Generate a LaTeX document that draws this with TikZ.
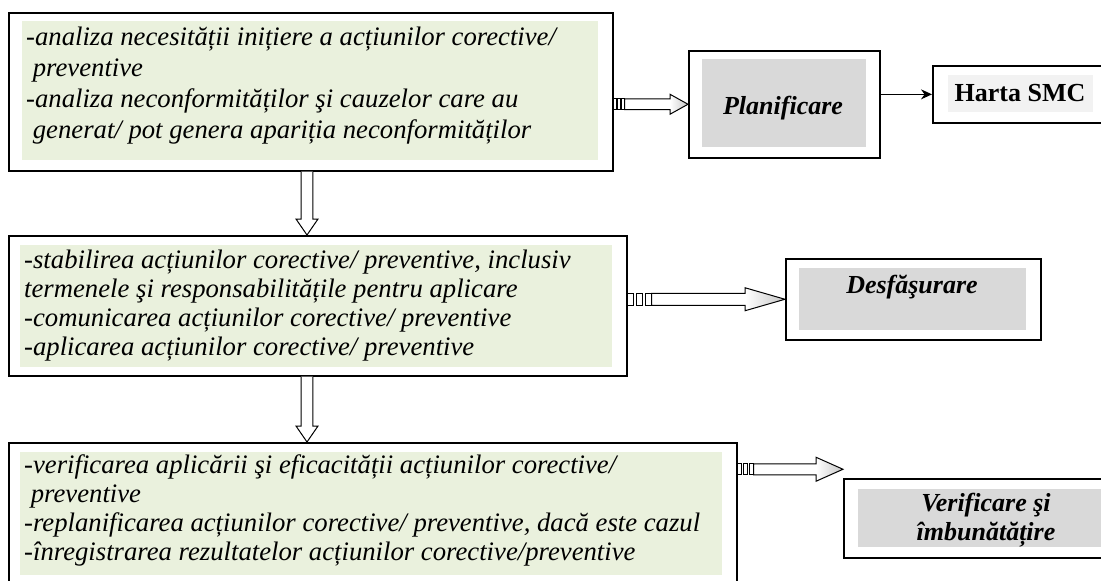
\documentclass[tikz,border=0pt]{standalone}
\usepackage{fontspec}
\setmainfont{Liberation Serif}
\usetikzlibrary{calc,arrows.meta}
\definecolor{grn}{RGB}{234,241,221}
\definecolor{gry}{RGB}{217,217,217}
\definecolor{lgry}{RGB}{242,242,242}
\tikzset{
  frame/.style={draw=black, line width=1.5pt, rectangle, inner sep=0pt, anchor=north west},
  greenbg/.style={fill=grn, rectangle, inner sep=0pt, anchor=north west},
  graybg/.style={fill=gry, rectangle, inner sep=0pt, anchor=north west},
  lgraybg/.style={fill=lgry, rectangle, inner sep=0pt, anchor=north west},
  body/.style={anchor=north west, align=left, inner sep=0pt},
  lbl/.style={inner sep=0pt, align=center, font=\fontsize{26}{29}\selectfont\bfseries\itshape},
  hollow/.style={draw=black, line width=1pt, fill=white, line join=miter},
}
% fat hollow arrow: #1 start, #2 end, #3 squares zone length, #4 head length, #5 shaft half height, #6 head half height
\newcommand\fatarrow[6]{%
  \draw[hollow] ($(#1)+(0,-#5)$) rectangle ($(#1)+({0.26*#3},#5)$);
  \draw[hollow] ($(#1)+({0.37*#3},-#5)$) rectangle ($(#1)+({0.64*#3},#5)$);
  \draw[hollow] ($(#1)+({0.74*#3},-#5)$) rectangle ($(#1)+(#3,#5)$);
  \path[fill=white] ($(#1)+(#3,-#5)$) rectangle ($(#2)+(-#4,#5)$);
  \path[left color=white, right color=gray!45] ($(#2)+(-#4,-#6)$) -- (#2) -- ($(#2)+(-#4,#6)$) -- cycle;
  \draw[draw=black, line width=1pt, line join=miter] ($(#1)+(#3,-#5)$) -- ($(#2)+(-#4,-#5)$) -- ($(#2)+(-#4,-#6)$) -- (#2)
     -- ($(#2)+(-#4,#6)$) -- ($(#2)+(-#4,#5)$) -- ($(#1)+(#3,#5)$) -- cycle;
}
% hollow downward arrow: #1 start, #2 tip
\newcommand\downfat[2]{%
  \draw[hollow] ($(#1)+(-5.8,0)$) -- ($(#2)+(-5.8,-16)$) -- ($(#2)+(-11,-16)$) -- (#2)
     -- ($(#2)+(11,-16)$) -- ($(#2)+(5.8,-16)$) -- ($(#1)+(5.8,0)$);
}
\begin{document}
\begin{tikzpicture}[x=1pt,y=-1pt]
\useasboundingbox (0,0) rectangle (1101,581);
\clip (0,0) rectangle (1101,581);
\fill[white] (0,0) rectangle (1101,581);

% ---------- box 1 ----------
\node[frame, minimum width=604, minimum height=158] (b1) at (8,12) {};
\node[greenbg, minimum width=576, minimum height=139] (g1) at (22,21) {};
\node[body, font=\fontsize{26.7}{31}\selectfont\itshape] (t1) at (26,26)
  {\rule{0pt}{19pt}-analiza necesității inițiere a acțiunilor corective/\\
   \hspace*{0.25em}preventive\\
   -analiza neconformităților şi cauzelor care au\\
   \hspace*{0.25em}generat/ pot genera apariția neconformităților};

% ---------- box 2 ----------
\node[frame, minimum width=618, minimum height=140] (b2) at (8,235) {};
\node[greenbg, minimum width=592, minimum height=122] (g2) at (20,245) {};
\node[body, font=\fontsize{26.7}{29}\selectfont\itshape] (t2) at (24,249)
  {\rule{0pt}{19pt}-stabilirea acțiunilor corective/ preventive, inclusiv\\
   termenele şi responsabilitățile pentru aplicare\\
   -comunicarea acțiunilor corective/ preventive\\
   -aplicarea acțiunilor corective/ preventive};

% ---------- box 3 ----------
\node[frame, minimum width=728, minimum height=170] (b3) at (8,442) {};
\node[greenbg, minimum width=702, minimum height=123] (g3) at (20,452) {};
\node[body, font=\fontsize{26.7}{29}\selectfont\itshape] (t3) at (24,454)
  {\rule{0pt}{19pt}-verificarea aplicării şi eficacității acțiunilor corective/\\
   \hspace*{0.25em}preventive\\
   -replanificarea acțiunilor corective/ preventive, dacă este cazul\\
   -înregistrarea rezultatelor acțiunilor corective/preventive};

% ---------- Planificare ----------
\node[frame, minimum width=191, minimum height=107] (plan) at (688,50) {};
\node[graybg, minimum width=164, minimum height=88] (planbg) at (702,59) {};
\node[lbl, anchor=base] (tplan) at (783,114) {Planificare};

% ---------- Harta SMC ----------
\node[frame, line width=1.7pt, minimum width=190, minimum height=57] (harta) at (932,65) {};
\node[lgraybg, minimum width=145, minimum height=37] (hartabg) at (948,75) {};
\node[inner sep=0pt, anchor=base, font=\fontsize{26}{29}\selectfont\bfseries] (thart) at (1020,101) {Harta SMC};

% ---------- Desfasurare ----------
\node[frame, minimum width=255, minimum height=81] (desf) at (785,258) {};
\node[graybg, minimum width=227, minimum height=62] (desfbg) at (799,268) {};
\node[lbl, anchor=base] (tdesf) at (912,293) {Desfăşurare};

% ---------- Verificare ----------
\node[frame, minimum width=280, minimum height=79] (verif) at (843,478) {};
\node[graybg, minimum width=260, minimum height=58] (verifbg) at (858,489) {};
\node[lbl, anchor=north] (tverif) at (986,492) {\rule{0pt}{19pt}Verificare şi\\îmbunătățire};

% ---------- connectors ----------
\coordinate (a1s) at (b1.east |- plan.west);
\fatarrow{a1s}{plan.west}{11}{18}{5.3}{10}
\draw[line width=1.3pt, -{Stealth[length=11pt,width=10pt]}] (plan.east |- harta.west) -- (harta.west);

\coordinate (a2s) at (b2.east |- desf.west);
\fatarrow{a2s}{desf.west}{24}{40}{6}{11.5}

\coordinate (a3e) at ($(verif.west)+(0,-49)$);
\coordinate (a3s) at (b3.east |- a3e);
\fatarrow{a3s}{a3e}{16}{27}{5.5}{12}

\coordinate (d1s) at ($(b1.south west)+(299,0)$);
\coordinate (d1e) at (d1s |- b2.north);
\downfat{d1s}{d1e}
\coordinate (d2s) at ($(b2.south west)+(299,0)$);
\coordinate (d2e) at (d2s |- b3.north);
\downfat{d2s}{d2e}
\end{tikzpicture}
\end{document}
